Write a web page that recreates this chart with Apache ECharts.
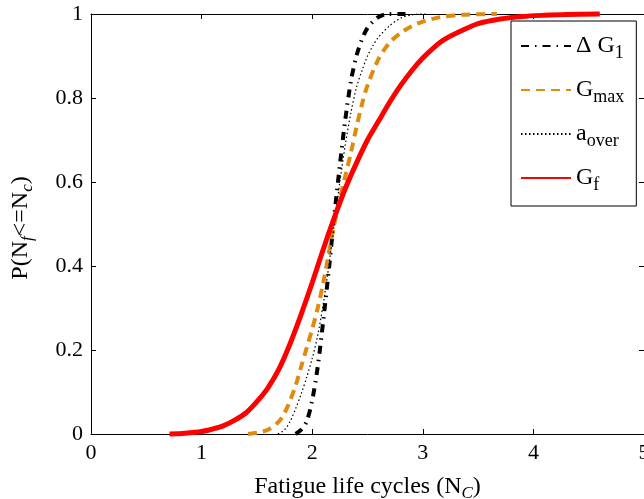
<!DOCTYPE html>
<html>
<head>
<meta charset="utf-8">
<script src="https://cdn.jsdelivr.net/npm/echarts@6/dist/echarts.min.js"></script>
<style>
  html, body { margin: 0; padding: 0; background: #fff; }
  #chart { width: 644px; height: 499px; }
</style>
</head>
<body>
<div id="chart"></div>
<script>
// Axis ticks
const xTicks = [0, 1, 2, 3, 4, 5];
const yTicks = [0, 0.2, 0.4, 0.6, 0.8, 1];

// Cumulative probability curves: fatigue life (x) vs P(Nf <= Nc) (y)
const dG1X = [1.85, 1.90, 1.95, 2.00, 2.05, 2.10, 2.15, 2.20, 2.25, 2.30, 2.35, 2.40, 2.45, 2.50, 2.55, 2.60, 2.68, 2.86];
const dG1Y = [0, 0.01, 0.03, 0.08, 0.16, 0.27, 0.39, 0.52, 0.64, 0.75, 0.84, 0.90, 0.94, 0.967, 0.982, 0.993, 1, 1];

const gmaxX = [1.42, 1.50, 1.60, 1.70, 1.75, 1.80, 1.85, 1.90, 1.95, 2.00, 2.05, 2.10, 2.15, 2.20, 2.25, 2.30, 2.35, 2.40, 2.45, 2.50, 2.60, 2.70, 2.80, 2.90, 3.00, 3.15, 3.35, 3.67];
const gmaxY = [0, 0.003, 0.01, 0.03, 0.05, 0.08, 0.115, 0.16, 0.205, 0.25, 0.30, 0.36, 0.43, 0.50, 0.56, 0.615, 0.67, 0.73, 0.785, 0.83, 0.893, 0.932, 0.955, 0.971, 0.982, 0.992, 0.998, 1];

const aoverX = [1.69, 1.75, 1.80, 1.85, 1.90, 1.95, 2.00, 2.05, 2.10, 2.15, 2.20, 2.25, 2.30, 2.35, 2.40, 2.45, 2.50, 2.55, 2.60, 2.70, 2.80, 2.90, 3.04];
const aoverY = [0, 0.01, 0.03, 0.06, 0.095, 0.135, 0.18, 0.235, 0.31, 0.40, 0.50, 0.60, 0.69, 0.765, 0.825, 0.865, 0.90, 0.925, 0.945, 0.972, 0.99, 0.998, 1];

const gfX = [0.71, 0.85, 1.00, 1.10, 1.20, 1.30, 1.40, 1.50, 1.60, 1.70, 1.80, 1.90, 2.00, 2.10, 2.20, 2.30, 2.40, 2.50, 2.60, 2.70, 2.80, 2.90, 3.00, 3.10, 3.20, 3.35, 3.50, 3.70, 3.90, 4.10, 4.30, 4.60];
const gfY = [0, 0.002, 0.006, 0.012, 0.02, 0.033, 0.05, 0.077, 0.11, 0.155, 0.215, 0.285, 0.36, 0.44, 0.515, 0.585, 0.645, 0.70, 0.745, 0.79, 0.83, 0.865, 0.895, 0.92, 0.94, 0.96, 0.977, 0.988, 0.994, 0.997, 0.999, 1];

const FONT = '"Liberation Serif", "Times New Roman", serif';

function pairs(xs, ys) {
  return xs.map((x, i) => [x, ys[i]]);
}

// Legend labels with subscripts, drawn as rich text
const legendLabels = {
  dG1: '{m|\u0394 G}{s|1}',
  Gmax: '{m|G}{s|max}',
  aover: '{m|a}{s|over}',
  Gf: '{m|G}{s|f}'
};

function curve(name, xs, ys, color, width, dash) {
  return {
    name: name,
    type: 'line',
    data: pairs(xs, ys),
    showSymbol: false,
    symbol: 'none',
    smooth: 0.3,
    clip: false,
    lineStyle: { color: color, width: width, type: dash, cap: 'butt' },
    itemStyle: { color: color },
    emphasis: { disabled: true }
  };
}

const chart = echarts.init(document.getElementById('chart'), null, { renderer: 'canvas' });

const axisCommon = {
  type: 'value',
  axisLine: { show: true, onZero: false, lineStyle: { color: '#000', width: 1 } },
  axisTick: { show: true, inside: true, length: 5, lineStyle: { color: '#000', width: 1 } },
  splitLine: { show: false }
};

const subStyle = { fontFamily: FONT, fontSize: 17, fontStyle: 'italic', color: '#000', padding: [14, 0, 0, 0] };

chart.setOption({
  animation: false,
  backgroundColor: '#fff',
  grid: { left: 91, right: 0, top: 14, bottom: 65, containLabel: false, outerBoundsMode: 'none' },
  xAxis: [
    Object.assign({}, axisCommon, {
      position: 'bottom',
      min: xTicks[0], max: xTicks[xTicks.length - 1], interval: 1,
      axisLabel: { color: '#000', fontFamily: FONT, fontSize: 22, margin: 8 },
      name: 'Fatigue life cycles (N{sub|C})',
      nameLocation: 'middle',
      nameGap: 37,
      nameTextStyle: {
        color: '#000', fontFamily: FONT, fontSize: 24,
        rich: { sub: subStyle }
      }
    }),
    Object.assign({}, axisCommon, {
      position: 'top',
      min: xTicks[0], max: xTicks[xTicks.length - 1], interval: 1,
      axisLabel: { show: false }
    })
  ],
  yAxis: [
    Object.assign({}, axisCommon, {
      position: 'left',
      min: yTicks[0], max: yTicks[yTicks.length - 1], interval: 0.2,
      axisLabel: {
        color: '#000', fontFamily: FONT, fontSize: 22, margin: 8,
        formatter: v => (v === 0 || v === 1) ? String(v) : v.toFixed(1)
      },
      name: 'P(N{sub|f}<=N{sub|c})',
      nameLocation: 'middle',
      nameRotate: 90,
      nameGap: 55,
      nameTextStyle: {
        color: '#000', fontFamily: FONT, fontSize: 24,
        padding: [0, 8, 0, 0],
        rich: { sub: subStyle }
      }
    }),
    Object.assign({}, axisCommon, {
      position: 'right',
      min: yTicks[0], max: yTicks[yTicks.length - 1], interval: 0.2,
      axisLabel: { show: false }
    })
  ],
  legend: {
    orient: 'vertical',
    left: 511,
    top: 21,
    padding: [13, 12, 12, 9],
    itemGap: 16,
    itemWidth: 50,
    itemHeight: 14,
    borderColor: '#000',
    borderWidth: 1,
    borderRadius: 0,
    backgroundColor: '#fff',
    selectedMode: false,
    itemStyle: { opacity: 0, borderWidth: 0 },
    data: ['dG1', 'Gmax', 'aover', 'Gf'],
    formatter: name => legendLabels[name],
    textStyle: {
      color: '#000',
      fontFamily: FONT,
      fontSize: 24,
      rich: {
        m: { fontFamily: FONT, fontSize: 24, color: '#000', lineHeight: 24 },
        s: { fontFamily: FONT, fontSize: 18, color: '#000', padding: [14, 0, 0, 0] }
      }
    }
  },
  series: [
    curve('dG1', dG1X, dG1Y, '#000000', 4, [8, 6, 1.5, 6]),
    curve('Gmax', gmaxX, gmaxY, '#e08a0e', 4, [9, 6]),
    curve('aover', aoverX, aoverY, '#000000', 1.2, [1.5, 2.5]),
    curve('Gf', gfX, gfY, '#ff0000', 5, 'solid')
  ]
});
</script>
</body>
</html>
